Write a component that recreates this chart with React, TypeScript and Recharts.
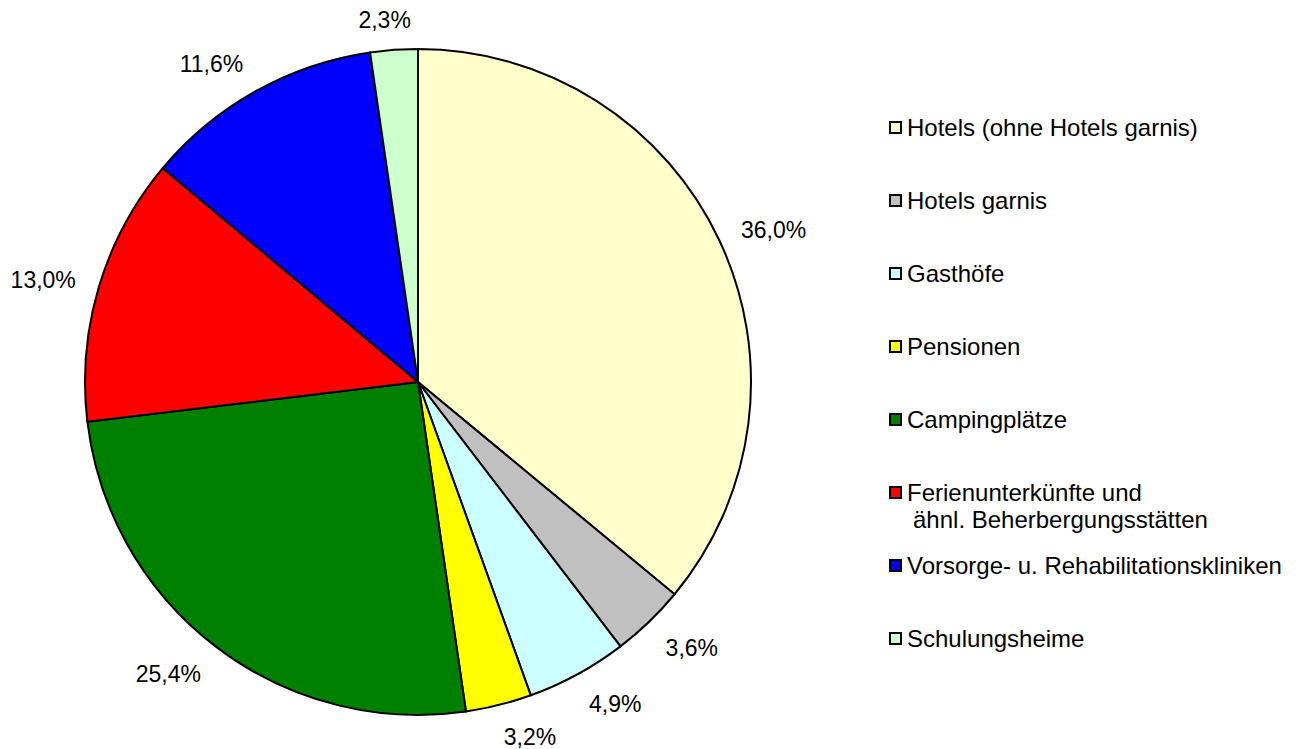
import { PieChart, Pie, Cell, Legend } from 'recharts';

const categories = [
  'Hotels (ohne Hotels garnis)',
  'Hotels garnis',
  'Gasthöfe',
  'Pensionen',
  'Campingplätze',
  'Ferienunterkünfte und\nähnl. Beherbergungsstätten',
  'Vorsorge- u. Rehabilitationskliniken',
  'Schulungsheime',
];

const shares = [36.0, 3.6, 4.9, 3.2, 25.4, 13.0, 11.6, 2.3];

const colors = ['#FFFFCC', '#C0C0C0', '#CCFFFF', '#FFFF00', '#008000', '#FF0000', '#0000FF', '#CCFFCC'];

const data = categories.map((name, i) => ({ name, value: shares[i], color: colors[i] }));

const FONT = 'Arial, "Liberation Sans", sans-serif';
const LABEL_SIZE = 23;
const RAD = Math.PI / 180;

// rough Arial advance widths (em)
const textWidth = (s: string) =>
  s.split('').reduce((w, c) => w + (c === ',' ? 0.278 : c === '%' ? 0.889 : 0.556), 0) * LABEL_SIZE;

const ramp = (v: number) => Math.min(1, Math.max(0, v));

// Excel-like outside label: anchor just outside the rim, box pushed away from it
const renderLabel = (props: any) => {
  const { cx, cy, outerRadius, midAngle, value } = props;
  const text = value.toFixed(1).replace('.', ',') + '%';
  const dx = Math.cos(-midAngle * RAD);
  const dy = Math.sin(-midAngle * RAD);
  const hw = textWidth(text) / 2;
  const d = outerRadius + 24;
  const ox = Math.sign(dx) * hw * ramp(Math.abs(dx) * 4);
  const oy = dy > 0 ? 9 : -6 * ramp((Math.abs(dy) - 0.45) / 0.3);
  const x = cx + d * dx + ox;
  const y = cy + d * dy + oy;
  return (
    <text
      x={x}
      y={y}
      fill="#000"
      fontSize={LABEL_SIZE}
      fontFamily={FONT}
      textAnchor="middle"
      dominantBaseline="central"
    >
      {text}
    </text>
  );
};

const renderLegend = () => (
  <div style={{ fontFamily: FONT, fontSize: 24, color: '#000' }}>
    {data.map((item) => {
      const lines = item.name.split('\n');
      return (
        <div
          key={item.name}
          style={{ display: 'flex', alignItems: 'flex-start', marginBottom: lines.length > 1 ? 19 : 46 }}
        >
          <span
            style={{
              width: 9,
              height: 9,
              marginTop: 7,
              marginRight: 5,
              border: '2px solid #000',
              backgroundColor: item.color,
              flexShrink: 0,
            }}
          />
          <div style={{ lineHeight: '27px', whiteSpace: 'nowrap' }}>
            {lines.map((l, i) => (
              <div key={i} style={{ paddingLeft: i > 0 ? 6 : 0 }}>
                {l}
              </div>
            ))}
          </div>
        </div>
      );
    })}
  </div>
);

export default function App() {
  return (
    <div style={{ position: 'absolute', left: 0, top: 0, background: '#fff' }}>
      <PieChart width={1296} height={749} margin={{ top: 0, right: 0, bottom: 0, left: 0 }}>
        <Pie
          data={data}
          dataKey="value"
          nameKey="name"
          cx={418}
          cy={382}
          outerRadius={333}
          startAngle={90}
          endAngle={-270}
          stroke="#000"
          strokeWidth={2}
          label={renderLabel}
          labelLine={false}
          isAnimationActive={false}
        >
          {data.map((entry, index) => (
            <Cell key={`cell-${index}`} fill={entry.color} />
          ))}
        </Pie>
        <Legend
          layout="vertical"
          content={renderLegend}
          wrapperStyle={{ left: 889, top: 113.5, width: 400 }}
        />
      </PieChart>
    </div>
  );
}
